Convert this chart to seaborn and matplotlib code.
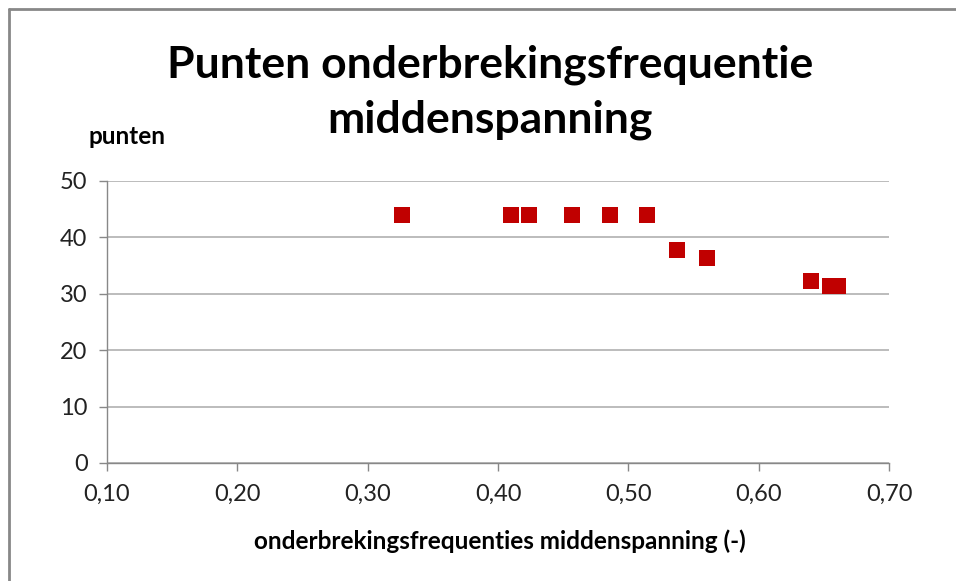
import matplotlib
matplotlib.use("Agg")
import matplotlib.pyplot as plt
import seaborn as sns
import pandas as pd
from matplotlib.lines import Line2D
from matplotlib.ticker import FuncFormatter

freq = [0.326, 0.410, 0.424, 0.457, 0.486, 0.514, 0.537, 0.560, 0.640, 0.655, 0.661]
punten = [44, 44, 44, 44, 44, 44, 37.7, 36.3, 32.2, 31.3, 31.3]
x_ticks = [0.10, 0.20, 0.30, 0.40, 0.50, 0.60, 0.70]
y_ticks = [0, 10, 20, 30, 40, 50]

df = pd.DataFrame({"freq": freq, "punten": punten})

sns.set_theme(style="white")
plt.rcParams['font.family'] = ['Lato', 'DejaVu Sans']

fig = plt.figure(figsize=(9.56, 5.81), dpi=100)
ax = fig.add_axes([0.1119, 0.2031, 0.930 - 0.1119, 0.6885 - 0.2031])

sns.scatterplot(data=df, x="freq", y="punten", ax=ax, marker="s", s=120,
                color="#C00000", edgecolor="#C00000", linewidth=0, zorder=3)

ax.set_xlim(0.10, 0.70)
ax.set_ylim(0, 50)
ax.set_xticks(x_ticks)
ax.set_yticks(y_ticks)
ax.xaxis.set_major_formatter(FuncFormatter(lambda v, p: f"{v:.2f}".replace(".", ",")))
ax.yaxis.set_major_formatter(FuncFormatter(lambda v, p: f"{int(round(v))}"))
ax.grid(axis="y", color="#B0B0B0", linewidth=1.2)
ax.grid(axis="x", visible=False)
for side in ["top", "right"]:
    ax.spines[side].set_visible(False)
for side in ["left", "bottom"]:
    ax.spines[side].set_color("#888888")
    ax.spines[side].set_linewidth(1.0)
ax.tick_params(axis="both", which="major", length=6, width=1.0, color="#888888",
               labelsize=17, labelcolor="#222222", direction="out")
ax.tick_params(axis="x", bottom=True, pad=9)
ax.tick_params(axis="y", left=True, pad=8)
ax.set_xlabel("")
ax.set_ylabel("")

fig.text(0.5126, 1 - 65 / 581, "Punten onderbrekingsfrequentie", ha="center", va="center",
         fontsize=32, fontweight="bold", color="black")
fig.text(0.5126, 1 - 120 / 581, "middenspanning", ha="center", va="center",
         fontsize=32, fontweight="bold", color="black")
fig.text(88 / 956, 1 - 137 / 581, "punten", ha="left", va="center",
         fontsize=17.5, fontweight="bold", color="black")
fig.text(500 / 956, 1 - 541 / 581, "onderbrekingsfrequenties middenspanning (-)", ha="center",
         va="center", fontsize=17.5, fontweight="bold", color="black")

# chart area border (top and left visible)
fig.add_artist(Line2D([9 / 956, 1.0], [1 - 9 / 581, 1 - 9 / 581], transform=fig.transFigure,
                      color="#888888", linewidth=2))
fig.add_artist(Line2D([9 / 956, 9 / 956], [0, 1 - 9 / 581], transform=fig.transFigure,
                      color="#888888", linewidth=2))

fig.savefig("out.png", dpi=100)
